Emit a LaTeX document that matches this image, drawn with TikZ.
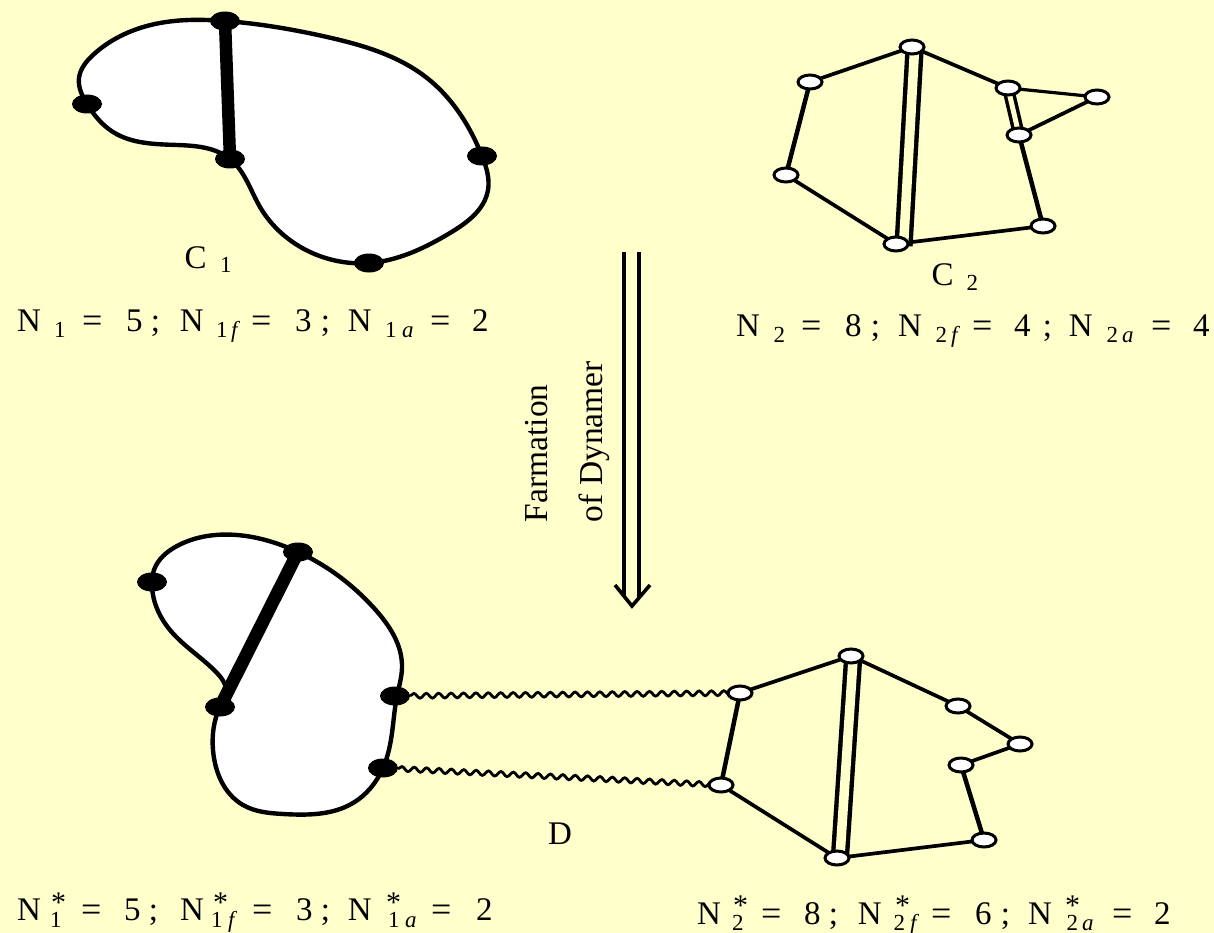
\documentclass[tikz,border=0pt]{standalone}
\usepackage{fontspec}
\setmainfont{Liberation Serif}
\usetikzlibrary{decorations.pathmorphing,shapes.geometric,hobby}
\definecolor{bgyellow}{HTML}{FFFFCC}
\newcommand{\sm}{\fontsize{23}{23}\selectfont}
\def\xo{0pt}\def\subdrop{6pt}\def\starup{9pt}
\newcommand{\at}[2]{\rlap{\kern\dimexpr#1pt-\xo\relax #2}}
\newcommand{\sa}[2]{\at{#1}{\raisebox{-\subdrop}{\sm #2}}}
\newcommand{\st}[1]{\at{#1}{\raisebox{\starup}{\fontsize{30}{30}\selectfont *}}}
\newcommand{\eqa}[1]{\at{#1}{\raisebox{-1.7pt}{\fontsize{36}{36}\selectfont =}}}
\tikzset{
  every node/.style={inner sep=0pt,outer sep=0pt},
  lbl/.style={font=\fontsize{33}{36}\selectfont,anchor=base west},
  rot/.style={font=\fontsize{33.5}{38}\selectfont,rotate=90,anchor=base west},
  fnode/.style={shape=ellipse,fill=black,minimum width=30pt,minimum height=19pt},
  onode/.style={shape=ellipse,draw=black,fill=white,line width=3pt,minimum width=24pt,minimum height=14pt},
  blob/.style={draw=black,fill=white,line width=4.4pt,line join=round,use Hobby shortcut,closed=true},
  thickb/.style={draw=black,line width=12.5pt},
  bond/.style={draw=black,line width=3.7pt},
  heavyb/.style={draw=black,line width=4.5pt},
  thinb/.style={draw=black,line width=3.2pt},
  dblb/.style={draw=black,double=bgyellow,double distance=9.5pt,line width=4.4pt},
  dbls/.style={draw=black,double=bgyellow,double distance=5pt,line width=3.5pt},
  wavy/.style={draw=black,line width=2.8pt,decorate,decoration={snake,amplitude=2.4pt,segment length=12.4pt}},
  arr/.style={draw=black,line width=3.6pt}
}
\begin{document}
\begin{tikzpicture}[x=1pt,y=-1pt]
\useasboundingbox[fill=bgyellow] (0,0) rectangle (1214,933);
% C1
\coordinate (t1) at (225,21);
\coordinate (l1) at (87,104);
\coordinate (m1) at (230,159);
\coordinate (b1) at (369,263);
\coordinate (r1) at (482,156);
\path[blob] (t1) .. (160,23) .. (93,55) .. (79,78) .. (l1) .. (113,132) .. (177,145) .. (m1) .. (260,207) .. (310,252) .. (b1) .. (450,233) .. (488,190) .. (r1) .. (427,78) .. (327,37);
\path[thickb] (t1) -- (m1);
\foreach \n in {t1,l1,m1,r1,b1} \node[fnode] (n\n) at (\n) {};
% D blob
\coordinate (t2) at (298,552);
\coordinate (l2) at (152,582);
\coordinate (m2) at (220,707);
\coordinate (ra) at (395,696);
\coordinate (rb) at (383,768);
\path[blob] (t2) .. (237,535) .. (177,546) .. (154,570) .. (l2) .. (170,630) .. (217,673) .. (226,690) .. (m2) .. (213,750) .. (243,805) .. (283,814) .. (353,803) .. (rb) .. (392,733) .. (397,696) .. (402,668) .. (373,607) .. (340,577);
\path[thickb,line width=13pt] (t2) -- (m2);
\foreach \n in {t2,l2,m2,ra,rb} \node[fnode] (n\n) at (\n) {};
% C2 graph
\coordinate (a) at (912,47);
\coordinate (b) at (810,82);
\coordinate (c) at (786,175);
\coordinate (d) at (896,244);
\coordinate (e) at (1043,226);
\coordinate (f) at (1019,135);
\coordinate (g) at (1008,88);
\coordinate (h) at (1097,97);
\coordinate (ad1) at (914.5,50);
\coordinate (ad2) at (903.5,246);
\path[bond] (a)--(b) (c)--(d) (a)--(g) (h)--(f) (d)--(e);
\path[heavyb] (b)--(c) (f)--(e);
\path[thinb] (g)--(h);
\path[dblb] (ad1)--(ad2);
\path[dbls] (g)--(f);
\foreach \n in {a,b,c,d,e,f,g,h} \node[onode] (\n n) at (\n) {};
% D right graph
\coordinate (A) at (851,656);
\coordinate (B) at (740,693);
\coordinate (C) at (721,785);
\coordinate (DD) at (837,858);
\coordinate (E) at (984,840);
\coordinate (F) at (961,765);
\coordinate (G) at (958,706);
\coordinate (H) at (1020,744);
\coordinate (AD1) at (853,660);
\coordinate (AD2) at (840,856);
\path[wavy] (nra) -- (B);
\path[wavy] (nrb) -- (C);
\path[bond] (A)--(B) (C)--(DD) (A)--(G) (H)--(G) (H)--(F) (DD)--(E);
\path[heavyb] (B)--(C) (F)--(E);
\path[dblb] (AD1)--(AD2);
\foreach \n in {A,B,C,DD,E,F,G,H} \node[onode] (\n n) at (\n) {};
% arrow
\coordinate (s1) at (624,252); \coordinate (e1) at (624,597);
\coordinate (s2) at (639,252); \coordinate (e2) at (639,597);
\coordinate (h1) at (615,585); \coordinate (h2) at (632,606); \coordinate (h3) at (650,585);
\path[arr] (s1)--(e1) (s2)--(e2);
\path[arr,line join=miter] (h1)--(h2)--(h3);
% labels
\node[rot] (tf) at (547,522) {Farmation};
\node[rot] (to) at (602,522) {of Dynamer};
\node[lbl] (c1l) at (184.5,268) {\def\subdrop{5pt}\def\xo{184.5pt}\at{184.5}{C}\sa{220}{1}\kern50pt};
\node[lbl] (c2l) at (931.5,285) {\def\subdrop{5pt}\def\xo{931.5pt}\at{931.5}{C}\sa{966.5}{2}\kern50pt};
\node[lbl] (dl) at (548,844) {D};
\node[lbl] (n1) at (17,331) {\def\xo{17pt}%
\at{17}{N}\sa{54}{1}\eqa{82}\at{126}{5}\at{151}{;}%
\at{180}{N}\sa{216}{1}\sa{231}{\textit{f}}\eqa{251}\at{295}{3}\at{321}{;}%
\at{348}{N}\sa{385}{1}\sa{402}{\textit{a}}\eqa{430}\at{472}{2}\kern471pt};
\node[lbl] (n2) at (736,336) {\def\xo{736pt}%
\at{736}{N}\sa{773.5}{2}\eqa{801}\at{845}{8}\at{871}{;}%
\at{898}{N}\sa{935.5}{2}\sa{951}{\textit{f}}\eqa{972}\at{1014}{4}\at{1043}{;}%
\at{1069}{N}\sa{1106.5}{2}\sa{1122}{\textit{a}}\eqa{1151}\at{1193}{4}\kern472pt};
\node[lbl] (n3) at (17,920) {\def\xo{17pt}\def\subdrop{7pt}\def\starup{8pt}%
\at{17}{N}\st{51}\sa{50}{1}\eqa{81}\at{124}{5}\at{149}{;}%
\at{180}{N}\st{213}\sa{211}{1}\sa{228}{\textit{f}}\eqa{252}\at{296}{3}\at{321}{;}%
\at{348}{N}\st{386}\sa{388}{1}\sa{405}{\textit{a}}\eqa{431}\at{476}{2}\kern475pt};
\node[lbl] (n4) at (697,924) {\def\xo{697pt}\def\subdrop{6pt}\def\starup{9pt}%
\at{697}{N}\st{733}\sa{732}{2}\eqa{761}\at{804}{8}\at{829}{;}%
\at{858}{N}\st{895}\sa{893.5}{2}\sa{910}{\textit{f}}\eqa{931}\at{975}{6}\at{1001}{;}%
\at{1028}{N}\st{1065}\sa{1066.5}{2}\sa{1082}{\textit{a}}\eqa{1112}\at{1154}{2}\kern472pt};
\end{tikzpicture}
\end{document}
